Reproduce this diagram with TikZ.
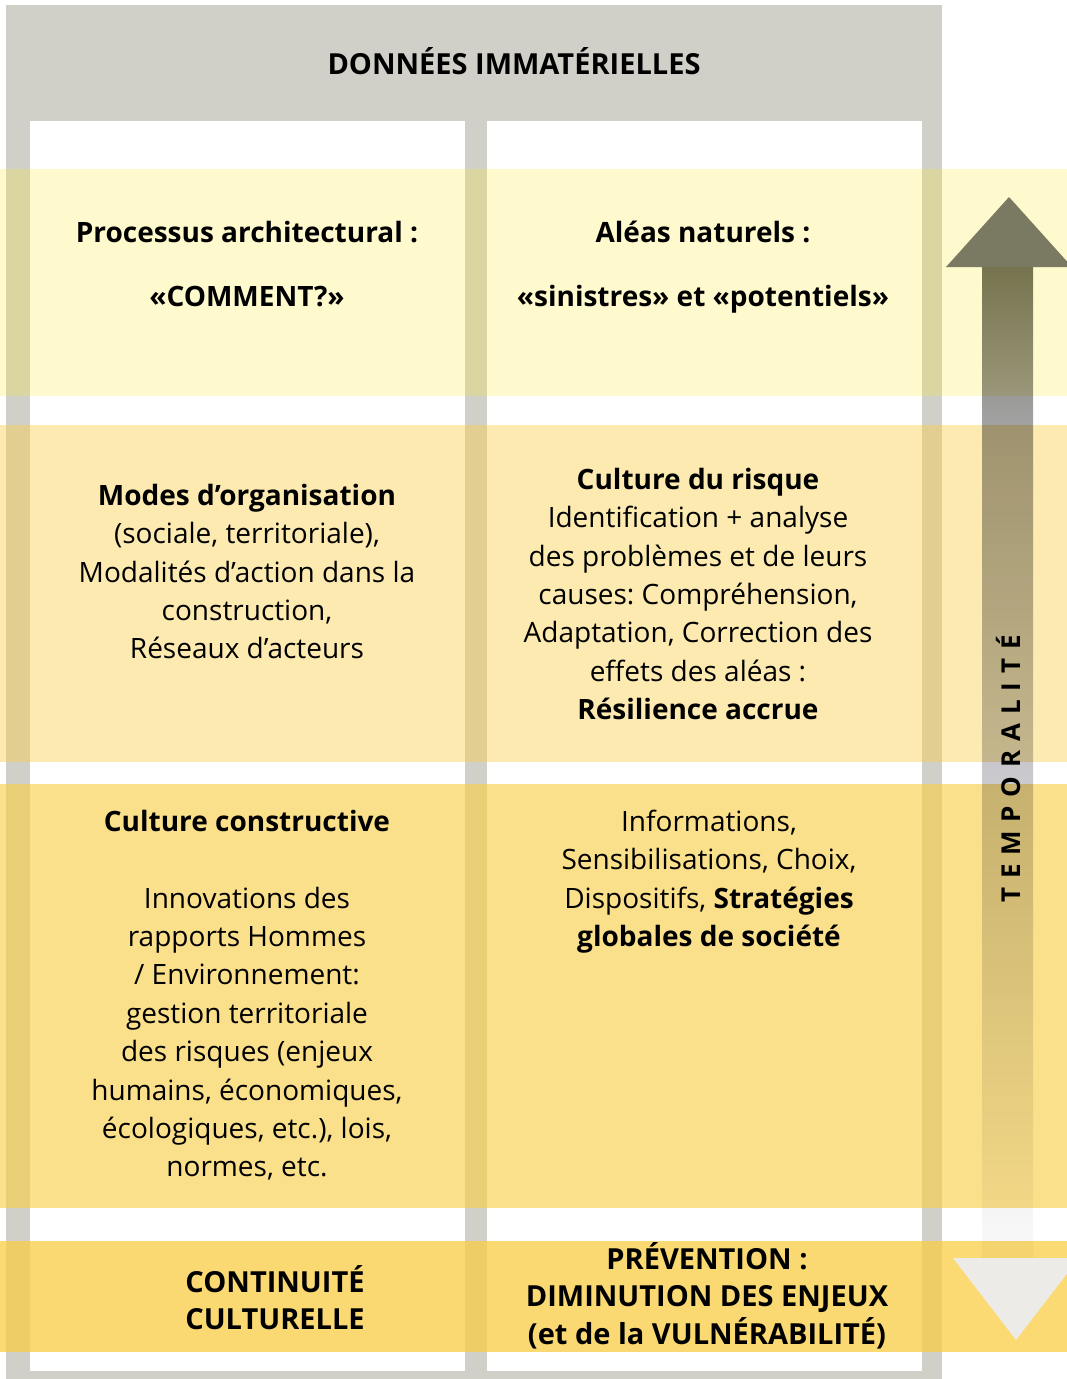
\documentclass[tikz,border=0pt]{standalone}
\usepackage{fontspec}
\setmainfont{Open Sans}
\frenchspacing

\definecolor{framegray}{RGB}{209,208,200}
\definecolor{bandpale}{RGB}{255,233,30}
\definecolor{bandsun}{RGB}{249,205,68}
\definecolor{shafttop}{RGB}{118,118,98}
\definecolor{shaftq}{RGB}{160,160,160}
\definecolor{shaftmid}{RGB}{200,200,204}
\definecolor{shaftbot}{RGB}{250,250,250}
\definecolor{headup}{RGB}{122,121,98}
\definecolor{headdown}{RGB}{236,235,232}

\pgfdeclareverticalshading{shaftshade}{100bp}{color(0bp)=(shaftbot); color(25bp)=(shaftbot);
  color(50bp)=(shaftmid); color(67.5bp)=(shaftq); color(75bp)=(shafttop); color(100bp)=(shafttop)}

% first line always 30pt high, so the node top sits 30pt above the first baseline
\newcommand{\topline}{\rule{0pt}{30pt}}

\tikzset{
  cell/.style={align=center, inner sep=0pt, anchor=north,
    font=\fontsize{28}{38.4}\selectfont},
  headcell/.style={cell, font=\fontsize{28}{38.4}\selectfont\bfseries},
  capcell/.style={cell, font=\fontsize{29}{37.7}\selectfont\bfseries},
  band/.style={fill=bandsun, fill opacity=#1}
}

\begin{document}
\begin{tikzpicture}[x=1pt,y=-1pt]
  \useasboundingbox (0,0) rectangle (1067,1379);
  \clip (0,0) rectangle (1067,1379);

  % frame and columns
  \fill[framegray] (6,5) rectangle (942,1385);
  \fill[white] (30,121) rectangle (465,1371);
  \fill[white] (487,121) rectangle (922,1371);

  % horizontal bands
  \fill[band=0.22, fill=bandpale] (0,169) rectangle (1067,396);
  \fill[band=0.42] (0,425) rectangle (1067,762);
  \fill[band=0.62] (0,784) rectangle (1067,1208);
  \fill[band=0.75] (0,1241) rectangle (1067,1352);

  % arrow shaft
  \begin{scope}[blend mode=multiply]
    \shade[shading=shaftshade] (982,267) rectangle (1033,1258);
  \end{scope}

  % arrow heads
  \fill[headup] (946,267) -- (1009,197) -- (1072,267) -- cycle;
  \fill[headdown] (953,1258) -- (1079,1258) -- (1016,1340) -- cycle;

  % texts
  \node[font=\fontsize{29}{36}\selectfont\bfseries, anchor=base, inner sep=0pt]
    (title) at (514,74) {DONNÉES IMMATÉRIELLES};

  \node[headcell] (procL) at (247,212)
    {\topline Processus architectural :\\[26pt]«COMMENT?»};
  \node[headcell] (procR) at (703,212)
    {\topline Aléas naturels :\\[26pt]«sinistres» et «potentiels»};

  \node[cell] (modesL) at (247,475)
    {\topline\textbf{Modes d’organisation}\\(sociale, territoriale),\\Modalités d’action dans la\\construction,\\Réseaux d’acteurs};
  \node[cell] (risqueR) at (698,459)
    {\topline\textbf{Culture du risque}\\Identification + analyse\\des problèmes et de leurs\\causes: Compréhension,\\Adaptation, Correction des\\effets des aléas :\\\textbf{Résilience accrue}};

  \node[cell] (cultureL) at (247,801)
    {\topline\textbf{Culture constructive}\\[38.4pt]Innovations des\\rapports Hommes\\/ Environnement:\\gestion territoriale\\des risques (enjeux\\humains, économiques,\\écologiques, etc.), lois,\\normes, etc.};
  \node[cell] (infoR) at (709,801)
    {\topline Informations,\\Sensibilisations, Choix,\\Dispositifs, \textbf{Stratégies}\\\textbf{globales de société}};

  \node[capcell] (contL) at (275,1262)
    {\topline CONTINUITÉ\\CULTURELLE};
  \node[capcell] (prevR) at (707,1239)
    {\topline PRÉVENTION :\\DIMINUTION DES ENJEUX\\(et de la VULNÉRABILITÉ)};

  \node[font=\fontsize{26}{30}\selectfont\bfseries\addfontfeature{LetterSpace=34},
    rotate=90, anchor=base, inner sep=0pt] (temporalite) at (1020,769) {TEMPORALITÉ};
\end{tikzpicture}
\end{document}
